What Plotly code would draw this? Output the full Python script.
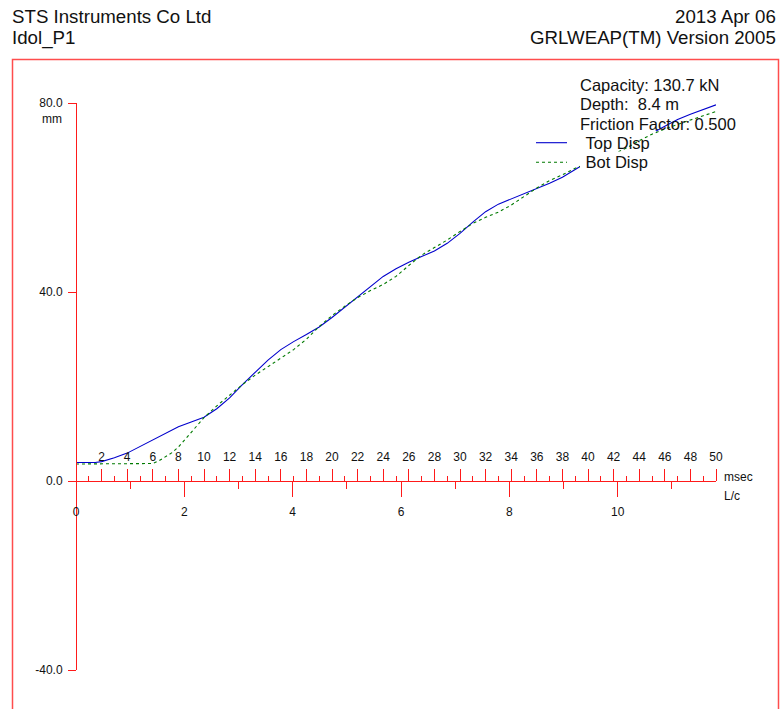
import plotly.graph_objects as go

# ---- data -------------------------------------------------------------
time_ms = [0, 1.5, 2, 3, 4, 5, 6, 7, 8, 9, 10, 11, 12, 13, 14, 15, 16, 17, 18, 19,
           20, 21, 22, 23, 24, 25, 26, 27, 28, 29, 30, 31, 32, 33, 34, 35, 36, 37,
           38, 39, 40, 41, 42, 43, 44, 45, 46, 47, 48, 49, 50]

top_disp = [3.9, 3.9, 4.1, 4.9, 5.9, 7.3, 8.8, 10.2, 11.5, 12.5, 13.5, 15.3, 17.6,
            20.4, 23.0, 25.6, 27.8, 29.5, 31.0, 32.6, 34.6, 36.8, 38.8, 41.2, 43.3,
            44.9, 46.3, 47.5, 48.7, 50.3, 52.4, 54.8, 57.0, 58.6, 59.7, 60.7, 61.9,
            63.0, 64.3, 65.9, 67.6, 69.2, 70.6, 71.8, 72.8, 73.6, 75.1, 76.5, 77.6,
            78.6, 79.6]

bot_time_ms = [0, 1, 2, 3, 4, 5, 6, 6.5, 7, 7.5, 8, 9, 10, 11, 12, 13, 14, 15, 16,
               17, 18, 19, 20, 21, 22, 23, 24, 25, 26, 27, 28, 29, 30, 31, 32, 33,
               34, 35, 36, 37, 38, 39, 40, 41, 42, 43, 44, 45, 46, 47, 48, 49, 50]

bot_disp = [3.6, 3.6, 3.6, 3.6, 3.6, 3.6, 3.7, 4.3, 5.2, 6.0, 7.2, 10.3, 13.4, 15.9,
            18.2, 20.4, 22.4, 24.2, 26.0, 27.8, 30.0, 32.7, 35.0, 37.0, 38.8, 40.3,
            41.6, 43.3, 45.6, 47.8, 49.4, 51.0, 52.8, 54.5, 55.8, 56.9, 58.4, 60.2,
            62.0, 63.6, 64.8, 66.2, 67.3, 68.3, 69.2, 70.5, 72.0, 73.4, 74.5, 75.5,
            76.4, 77.3, 78.2]

msec_major_ticks = list(range(2, 51, 2))
msec_minor_ticks = list(range(1, 50, 2))
lc_major_ticks = [0, 2, 4, 6, 8, 10]
lc_minor_ticks = [1, 3, 5, 7, 9, 11]
mm_ticks = [-40, 0, 40, 80]
mm_labels = ["-40.0", "0.0", "40.0", "80.0"]

lc_in_msec = 4.232  # duration of one L/c in milliseconds

info_lines = ["Capacity: 130.7 kN", "Depth:\u00a0\u00a08.4 m", "Friction Factor: 0.500"]
series_names = ["\u00a0Top Disp", "\u00a0Bot Disp"]

# ---- page geometry (pixels) ------------------------------------------
W, H = 781, 709
X_PX = (68, 716)          # horizontal extent of the time axis
Y_PX = (103, 670)         # vertical extent of the displacement axis
X_RANGE = (-0.625, 50.0)
Y_RANGE = (-40.0, 80.0)
AXIS_Y_PX = 481

RED = "#ff1a1a"
FONT = "Liberation Sans, Arial, sans-serif"


def px_x(px):
    return px / W


def px_y(py):
    return 1 - py / H


def px_to_ms(px):
    return X_RANGE[0] + (px - X_PX[0]) / (X_PX[1] - X_PX[0]) * (X_RANGE[1] - X_RANGE[0])


def px_to_mm(py):
    return Y_RANGE[1] - (py - Y_PX[0]) / (Y_PX[1] - Y_PX[0]) * (Y_RANGE[1] - Y_RANGE[0])


def legend_box(x0, x1, y0, y1):
    xs = [px_to_ms(x0), px_to_ms(x1), px_to_ms(x1), px_to_ms(x0), px_to_ms(x0)]
    ys = [px_to_mm(y0), px_to_mm(y0), px_to_mm(y1), px_to_mm(y1), px_to_mm(y0)]
    return go.Scatter(x=xs, y=ys, mode="lines", fill="toself", fillcolor="white",
                      line=dict(width=0, color="white"), hoverinfo="skip",
                      showlegend=False)


fig = go.Figure()

# top displacement, then the background of its legend row
fig.add_trace(go.Scatter(x=time_ms, y=top_disp, mode="lines", name="Top Disp",
                         line=dict(color="#0000cc", width=1.1), showlegend=False))
fig.add_trace(legend_box(580, 656, 131, 151.5))

# bottom displacement, then the background of its legend row
fig.add_trace(go.Scatter(x=bot_time_ms, y=bot_disp, mode="lines", name="Bot Disp",
                         line=dict(color="#007a00", width=1.1, dash="3px,3px"),
                         showlegend=False))
fig.add_trace(legend_box(580, 656, 151.5, 172))

# carrier for the L/c scale
fig.add_trace(go.Scatter(x=[0], y=[None], xaxis="x2", yaxis="y", mode="lines",
                         showlegend=False, hoverinfo="skip"))

tick_font = dict(family=FONT, size=12, color="#111111")

fig.update_layout(
    template="none",
    width=W, height=H, autosize=False,
    margin=dict(l=0, r=0, t=0, b=0, pad=0, autoexpand=False),
    paper_bgcolor="white", plot_bgcolor="white",
    showlegend=False,
    xaxis=dict(
        domain=[px_x(X_PX[0]), px_x(X_PX[1])], range=list(X_RANGE),
        anchor="free", position=px_y(AXIS_Y_PX), side="top", automargin=False,
        showgrid=False, zeroline=False,
        showline=True, linecolor=RED, linewidth=1,
        tickmode="array", tickvals=msec_major_ticks,
        ticktext=[str(v) for v in msec_major_ticks],
        ticks="outside", ticklen=12, tickwidth=1, tickcolor=RED,
        ticklabelstandoff=3,
        tickfont=tick_font,
        minor=dict(tickmode="array", tickvals=msec_minor_ticks, ticks="outside",
                   ticklen=5, tickwidth=1, tickcolor=RED, showgrid=False),
    ),
    xaxis2=dict(
        domain=[px_x(X_PX[0]), px_x(X_PX[1])],
        range=[X_RANGE[0] / lc_in_msec, X_RANGE[1] / lc_in_msec],
        overlaying="x", anchor="free", position=px_y(AXIS_Y_PX), side="bottom",
        automargin=False,
        showgrid=False, zeroline=False, showline=False,
        tickmode="array", tickvals=lc_major_ticks,
        ticktext=[str(v) for v in lc_major_ticks],
        ticks="outside", ticklen=15, tickwidth=1, tickcolor=RED,
        ticklabelstandoff=5,
        tickfont=tick_font,
        minor=dict(tickmode="array", tickvals=lc_minor_ticks, ticks="outside",
                   ticklen=7, tickwidth=1, tickcolor=RED, showgrid=False),
    ),
    yaxis=dict(
        domain=[px_y(Y_PX[1]), px_y(Y_PX[0])], range=list(Y_RANGE),
        anchor="free", position=px_x(76), side="left", automargin=False,
        showgrid=False, zeroline=False,
        showline=True, linecolor=RED, linewidth=1,
        tickmode="array", tickvals=mm_ticks, ticktext=mm_labels,
        ticks="outside", ticklen=8, tickwidth=1, tickcolor=RED,
        ticklabelstandoff=3,
        tickfont=tick_font,
    ),
)

# page frame
fig.add_shape(type="rect", xref="paper", yref="paper",
              x0=px_x(12.5), x1=px_x(778.5), y0=px_y(720), y1=px_y(59.5),
              line=dict(color="#ff4d4d", width=1.5), fillcolor="rgba(0,0,0,0)",
              layer="above")

# legend line samples
fig.add_shape(type="line", xref="paper", yref="paper",
              x0=px_x(536), x1=px_x(567), y0=px_y(142.7), y1=px_y(142.7),
              line=dict(color="#0000cc", width=1.1), layer="above")
fig.add_shape(type="line", xref="paper", yref="paper",
              x0=px_x(536), x1=px_x(567), y0=px_y(162.3), y1=px_y(162.3),
              line=dict(color="#007a00", width=1.1, dash="3px,3px"), layer="above")


def label(text, x, y, size, anchor="left", color="#111111"):
    fig.add_annotation(text=text, xref="paper", yref="paper",
                       x=px_x(x), y=px_y(y), xanchor=anchor, yanchor="middle",
                       showarrow=False, borderpad=0,
                       font=dict(family=FONT, size=size, color=color))


# header
label("STS Instruments Co Ltd", 11, 17, 18.7)
label("Idol_P1", 11, 37.5, 18.7)
label("2013 Apr 06", 777, 17, 18.7, anchor="right")
label("GRLWEAP(TM) Version 2005", 777, 37.5, 18.7, anchor="right")

# axis units
label("mm", 63, 119, 12, anchor="right")
label("msec", 723, 477, 12)
label("L/c", 723, 496, 12)

# analysis info and legend text
for i, line in enumerate(info_lines):
    label(line, 579, 84.5 + i * 19.5, 16.5)
label(series_names[0], 580, 143, 16.5)
label(series_names[1], 580, 162.5, 16.5)

fig.write_html("out.html")
